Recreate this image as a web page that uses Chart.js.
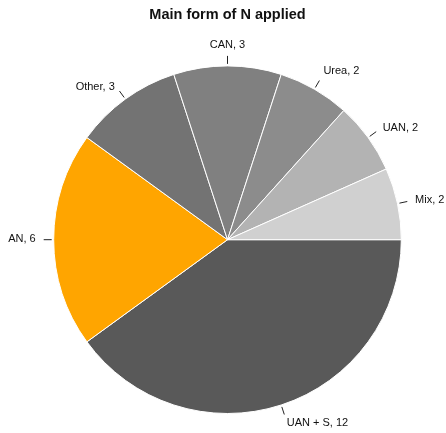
<!DOCTYPE html>
<html>
<head>
<meta charset="utf-8">
<script src="https://cdn.jsdelivr.net/npm/chart.js@4"></script>
<style>
  html, body { margin: 0; padding: 0; background: #fff; }
  #wrap { width: 446px; height: 433px; }
</style>
</head>
<body>
<div id="wrap"><canvas id="pieChart"></canvas></div>
<script>
// slices go clockwise from 3 o'clock
const labels = ['UAN + S', 'AN', 'Other', 'CAN', 'Urea', 'UAN', 'Mix']
const counts = [12, 6, 3, 3, 2, 2, 2]
const colors = ['#595959', '#ffa500', '#737373', '#808080', '#8c8c8c', '#b3b3b3', '#d0d0d0']

const font = '"Liberation Sans", Arial, sans-serif'

// short leader tick + "name, value" outside each slice
const outsideLabels = {
    id: 'outsideLabels',
    afterDatasetsDraw(chart) {
        const c = chart.ctx
        const arcs = chart.getDatasetMeta(0).data
        c.save()
        c.font = '11px ' + font
        c.fillStyle = '#111'
        c.strokeStyle = '#222'
        c.lineWidth = 1
        arcs.forEach((arc, i) => {
            const mid = (arc.startAngle + arc.endAngle) / 2
            const cos = Math.cos(mid), sin = Math.sin(mid)
            const r = arc.outerRadius
            c.beginPath()
            c.moveTo(arc.x + cos * (r + 2), arc.y + sin * (r + 2))
            c.lineTo(arc.x + cos * (r + 10), arc.y + sin * (r + 10))
            c.stroke()
            const tx = arc.x + cos * (r + 18)
            const ty = arc.y + sin * (r + 14) - 1
            c.textAlign = cos > 0.15 ? 'left' : cos < -0.15 ? 'right' : 'center'
            c.textBaseline = sin < -0.85 ? 'bottom' : sin > 0.85 ? 'top' : 'middle'
            c.fillText(labels[i] + ', ' + counts[i], tx, ty)
        })
        c.restore()
    }
}

const pie = new Chart(document.getElementById('pieChart'), {
    type: 'pie',
    data: {
        labels: labels,
        datasets: [{
            data: counts,
            backgroundColor: colors,
            borderColor: '#fff',
            borderWidth: 1
        }]
    },
    options: {
        responsive: true,
        maintainAspectRatio: false,
        animation: false,
        rotation: 90,
        layout: { padding: { top: 0, left: 53, right: 44, bottom: 19 } },
        plugins: {
            legend: { display: false },
            tooltip: { enabled: false },
            title: {
                display: true,
                text: 'Main form of N applied',
                color: '#111',
                font: { family: font, size: 14.5, weight: 'bold' },
                padding: { top: 6, bottom: 42 }
            }
        }
    },
    plugins: [outsideLabels]
});
</script>
</body>
</html>
